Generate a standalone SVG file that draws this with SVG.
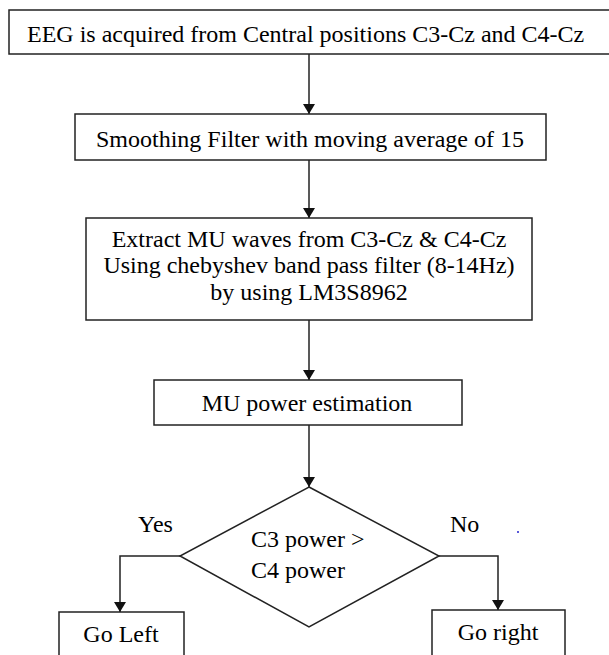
<svg xmlns="http://www.w3.org/2000/svg" width="609" height="655" viewBox="0 0 609 655">
<style>
.box{fill:#fff;stroke:#222;stroke-width:1.5}
.m{text-anchor:middle}
.c{fill:none;stroke:#222;stroke-width:1.5}
</style>
<defs>
<marker id="ah" viewBox="0 0 10 12" refX="10" refY="6" markerWidth="10" markerHeight="12" markerUnits="userSpaceOnUse" orient="auto">
<path d="M0,0 L10,6 L0,12 Z" fill="#111"/>
</marker>
</defs>
<rect width="609" height="655" fill="#fff"/>
<g font-family="Liberation Serif" font-size="24" fill="#000">
<g id="connectors">
<line class="c" x1="309" y1="54" x2="309" y2="114" marker-end="url(#ah)"/>
<line class="c" x1="309" y1="160" x2="309" y2="218" marker-end="url(#ah)"/>
<line class="c" x1="309" y1="320" x2="309" y2="380" marker-end="url(#ah)"/>
<line class="c" x1="309" y1="425" x2="309" y2="487" marker-end="url(#ah)"/>
<polyline class="c" points="180,556 120,556 120,612" marker-end="url(#ah)"/>
<polyline class="c" points="439,556 498,556 498,610" marker-end="url(#ah)"/>
<text x="138" y="532">Yes</text>
<text x="450" y="532">No</text>
<circle cx="518" cy="532" r="1" fill="#22c"/>
</g>
<g id="n1"><rect class="box" x="9" y="10" width="606" height="44"/>
<text x="27" y="42">EEG is acquired from Central positions C3-Cz and C4-Cz</text></g>
<g id="n2"><rect class="box" x="75" y="114" width="471" height="46"/>
<text class="m" x="310" y="147">Smoothing Filter with moving average of 15</text></g>
<g id="n3"><rect class="box" x="86" y="218" width="446" height="102"/>
<text class="m" x="309" y="247">Extract MU waves from C3-Cz &amp; C4-Cz</text>
<text class="m" x="309" y="273">Using chebyshev band pass filter (8-14Hz)</text>
<text class="m" x="309" y="300">by using LM3S8962</text></g>
<g id="n4"><rect class="box" x="154" y="380" width="308" height="45"/>
<text class="m" x="307" y="411">MU power estimation</text></g>
<g id="n5"><polygon class="box" points="309,487 439,556 309,627 180,556"/>
<text x="251" y="547">C3 power &gt;</text>
<text x="251" y="578">C4 power</text></g>
<g id="n6"><rect class="box" x="59" y="612" width="125" height="50"/>
<text class="m" x="121" y="642">Go Left</text></g>
<g id="n7"><rect class="box" x="432" y="610" width="133" height="50"/>
<text class="m" x="498" y="640">Go right</text></g>
</g>
</svg>
